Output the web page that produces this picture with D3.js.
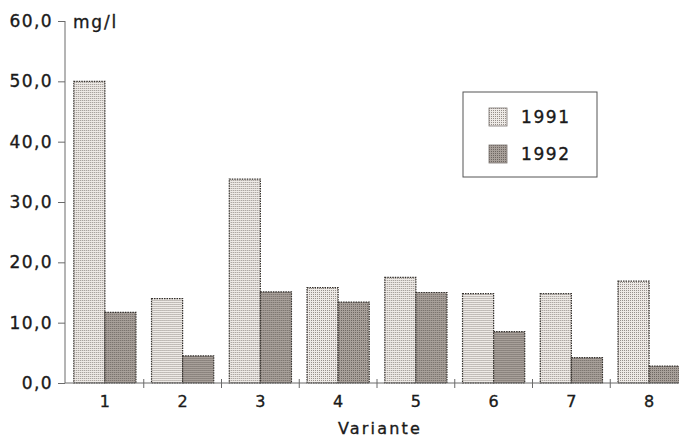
<!DOCTYPE html>
<html>
<head>
<meta charset="utf-8">
<script src="https://cdn.jsdelivr.net/npm/d3@7"></script>
<style>
  body { margin: 0; background: #fff; }
  text { font-family: "DejaVu Sans", sans-serif; fill: #1a1a1a; stroke: #1a1a1a; stroke-width: 0.35px; }
</style>
</head>
<body>
<div id="chart"></div>
<script>
// values (mg/l)
var categories = ["1", "2", "3", "4", "5", "6", "7", "8"];
var years = ["1991", "1992"];
var v1991 = [50.0, 14.0, 33.8, 15.8, 17.5, 14.8, 14.8, 16.9];
var v1992 = [11.7, 4.5, 15.1, 13.4, 15.0, 8.5, 4.2, 2.8];
var yTicks = [0, 10, 20, 30, 40, 50, 60];

var width = 679, height = 438;

var svg = d3.select("#chart").append("svg")
    .attr("width", width)
    .attr("height", height);

// scan-like fills
var defs = svg.append("defs");
var makePattern = function(id, base, dot) {
  var p = defs.append("pattern")
      .attr("id", id)
      .attr("patternUnits", "userSpaceOnUse")
      .attr("width", 2).attr("height", 2);
  p.append("rect").attr("width", 2).attr("height", 2).attr("fill", base);
  p.append("rect").attr("width", 1).attr("height", 1).attr("fill", dot);
};
makePattern("p1991", "#eeeae6", "#948e89");
makePattern("p1992", "#a8a09a", "#6e6762");
var fills = { "1991": "url(#p1991)", "1992": "url(#p1992)" };

var x0 = 65;
var y = d3.scaleLinear().domain([0, 60]).range([383, 21]);

var x = d3.scaleBand()
    .domain(categories)
    .range([66, 688])
    .paddingInner(0.2)
    .paddingOuter(0.1);

var xYear = d3.scaleBand()
    .domain(years)
    .range([0, x.bandwidth()]);

var rows = categories.map(function(c, i) {
  return { cat: c, values: [
    { year: "1991", value: v1991[i] },
    { year: "1992", value: v1992[i] }
  ]};
});

// bars
var groups = svg.selectAll("g.group")
    .data(rows)
  .enter().append("g")
    .attr("class", "group")
    .attr("transform", function(d) { return "translate(" + x(d.cat) + ",0)"; });

groups.selectAll("rect")
    .data(function(d) { return d.values; })
  .enter().append("rect")
    .attr("x", function(d) { return xYear(d.year); })
    .attr("y", function(d) { return y(d.value); })
    .attr("width", xYear.bandwidth())
    .attr("height", function(d) { return y(0) - y(d.value); })
    .attr("fill", function(d) { return fills[d.year]; })
    .attr("stroke", "#35312d")
    .attr("stroke-width", 1.2)
    .attr("stroke-dasharray", "1.5,1");

// y axis
var yAxis = d3.axisLeft(y)
    .tickValues(yTicks)
    .tickSize(7)
    .tickPadding(5)
    .tickFormat(function(d) { return d3.format(".1f")(d).replace(".", ","); });

var gy = svg.append("g")
    .attr("transform", "translate(" + x0 + ",0)")
    .call(yAxis);
gy.select(".domain").attr("stroke", "#6a6a6a").attr("d", "M0," + y(60) + "V" + y(0));
gy.selectAll(".tick line").attr("stroke", "#6a6a6a");
gy.selectAll(".tick text")
    .attr("font-size", 17)
    .attr("letter-spacing", 1.4)
    .attr("fill", "#1a1a1a");

// x axis: ticks sit between the groups
var step = x.step();
var boundaries = categories.slice(1).map(function(c) { return x(c) - step * 0.1; });

var gx = svg.append("g");
gx.append("line")
    .attr("x1", x0).attr("x2", 688)
    .attr("y1", y(0)).attr("y2", y(0))
    .attr("stroke", "#6a6a6a");
gx.selectAll("line.sep")
    .data(boundaries)
  .enter().append("line")
    .attr("class", "sep")
    .attr("x1", function(d) { return d; })
    .attr("x2", function(d) { return d; })
    .attr("y1", y(0) - 4)
    .attr("y2", y(0) + 5)
    .attr("stroke", "#6a6a6a");
gx.selectAll("text")
    .data(categories)
  .enter().append("text")
    .attr("x", function(d) { return x(d) + x.bandwidth() / 2; })
    .attr("y", 407)
    .attr("text-anchor", "middle")
    .attr("font-size", 16)
    .text(function(d) { return d; });

svg.append("text")
    .attr("x", 380)
    .attr("y", 434)
    .attr("text-anchor", "middle")
    .attr("font-size", 16)
    .attr("letter-spacing", 2.2)
    .text("Variante");

svg.append("text")
    .attr("x", 73)
    .attr("y", 28)
    .attr("font-size", 17)
    .attr("letter-spacing", 1.8)
    .text("mg/l");

// legend
var legend = svg.append("g").attr("transform", "translate(463,92)");
legend.append("rect")
    .attr("width", 134).attr("height", 85)
    .attr("fill", "#fff")
    .attr("stroke", "#555")
    .attr("stroke-width", 1);

var items = legend.selectAll("g.item")
    .data(years)
  .enter().append("g")
    .attr("class", "item")
    .attr("transform", function(d, i) { return "translate(26," + (16 + i * 37) + ")"; });
items.append("rect")
    .attr("width", 18).attr("height", 18)
    .attr("fill", function(d) { return fills[d]; })
    .attr("stroke", "#7a7470")
    .attr("stroke-width", 0.8);
items.append("text")
    .attr("x", 32)
    .attr("y", 15)
    .attr("font-size", 17)
    .attr("letter-spacing", 1.6)
    .text(function(d) { return d; });
</script>
</body>
</html>
